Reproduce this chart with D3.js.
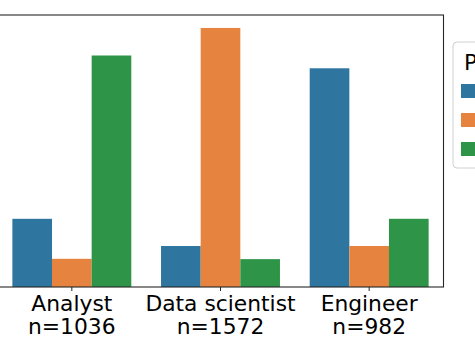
<!DOCTYPE html>
<html><head><meta charset="utf-8">
<script src="https://cdn.jsdelivr.net/npm/d3@7"></script>
<style>html,body{margin:0;padding:0;background:#fff;}svg{display:block;}</style>
</head><body>
<svg id="c" width="475" height="344"></svg>
<script>
const roles = ["Analyst", "Data scientist", "Engineer"];
const counts = [1036, 1572, 982];
const hues = ["Analyst", "Data scientist", "Engineer"];
const analystVals = [0.208, 0.086, 0.706];
const dataSciVals = [0.125, 0.790, 0.085];
const engineerVals = [0.667, 0.125, 0.208];
const colors = ["#2e75a0", "#e6833f", "#2e9447"];
const legendTitle = "Predicted";

(function(){
const rows = [analystVals, dataSciVals, engineerVals];
const svg = d3.select("#c");
const pL = -2.5, pR = 443.5, pT = 15, pB = 287;

const x = d3.scaleBand().domain(roles).range([pL, pR]).paddingInner(0).paddingOuter(0);
const x1 = d3.scaleBand().domain(hues).range([x.bandwidth()*0.1, x.bandwidth()*0.9]);
const ymax = d3.max(rows.flat()) * 1.05;
const y = d3.scaleLinear().domain([0, ymax]).range([pB, pT]);

const g = svg.append("g");
roles.forEach((r, i) => {
  g.selectAll(null).data(rows[i]).enter().append("rect")
    .attr("x", (d, j) => x(r) + x1(hues[j]))
    .attr("width", x1.bandwidth())
    .attr("y", d => y(d))
    .attr("height", d => y(0) - y(d))
    .attr("fill", (d, j) => colors[j]);
});

svg.append("rect").attr("x", pL).attr("y", pT).attr("width", pR-pL).attr("height", pB-pT)
  .attr("fill", "none").attr("stroke", "#262626").attr("stroke-width", 1.1);

const xAxis = d3.axisBottom(x).tickSize(4).tickFormat("");
const ax = svg.append("g").attr("transform", `translate(0,${pB})`).call(xAxis);
ax.select(".domain").remove();
ax.selectAll("line").attr("stroke", "#262626");

roles.forEach((r, i) => {
  const cx = x(r) + x.bandwidth()/2;
  const t = svg.append("text").attr("x", cx).attr("text-anchor", "middle")
    .attr("font-family", "DejaVu Sans").attr("font-size", 21.8).attr("fill", "#000");
  t.append("tspan").attr("x", cx).attr("y", 311).text(r);
  t.append("tspan").attr("x", cx).attr("y", 334).text("n=" + counts[i]);
});

const lg = svg.append("g").attr("transform", "translate(453,42)");
lg.append("rect").attr("width", 140).attr("height", 126).attr("rx", 4)
  .attr("fill", "#fff").attr("stroke", "#d0d0d0").attr("stroke-width", 1);
lg.append("text").attr("x", 11).attr("y", 28).attr("font-family", "DejaVu Sans").attr("font-size", 22).text(legendTitle);
hues.forEach((h, j) => {
  lg.append("rect").attr("x", 8).attr("y", 42 + j*29).attr("width", 28).attr("height", 14).attr("fill", colors[j]);
  lg.append("text").attr("x", 46).attr("y", 55 + j*29).attr("font-family", "DejaVu Sans").attr("font-size", 20).text(h);
});
})();
</script>
</body></html>
